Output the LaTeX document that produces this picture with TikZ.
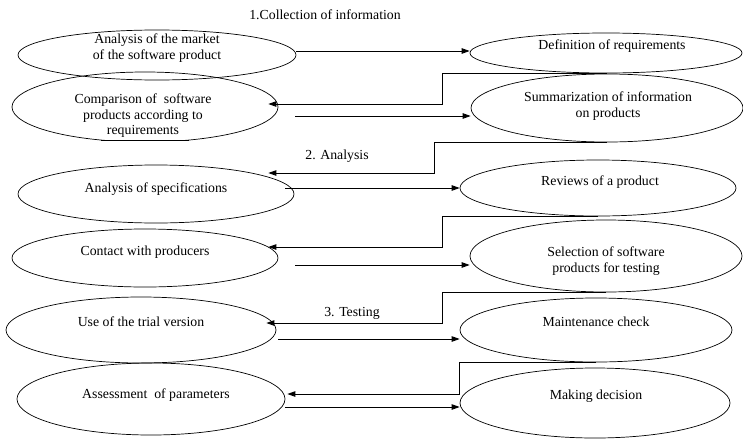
\documentclass[tikz,border=0pt]{standalone}
\usepackage{fontspec}
\setmainfont{Liberation Serif}
\usetikzlibrary{arrows.meta,calc,shapes.geometric}
\begin{document}
\begin{tikzpicture}[x=1pt,y=1pt,
 ell/.style={draw,ellipse,line width=0.7pt,inner sep=0pt},
 lbl/.style={font=\fontsize{13.8}{15.5}\selectfont,align=center,inner sep=0pt},
 arr/.style={line width=0.9pt,-{Triangle[length=8pt,width=5.5pt]}}]
\useasboundingbox (0,0) rectangle (743,-439);
% ellipses
\node[ell,minimum width=278pt,minimum height=50pt] (e1) at (157,-55) {};
\node[ell,minimum width=272pt,minimum height=40pt] (e2) at (606,-53) {};
\begin{scope}
\clip (0,-60) rectangle (400,-140);
\node[ell,minimum width=266pt,minimum height=70pt] (e3) at (145,-107) {};
\node[lbl] (t3) at (143,-116) {Comparison of\ \ software\\products according to\\requirements};
\end{scope}
\draw[line width=0.7pt] (101,-140) -- (189,-140);
\node[ell,minimum width=272pt,minimum height=68pt] (e4) at (607,-108) {};
\node[ell,minimum width=276pt,minimum height=58pt] (e5) at (156,-194) {};
\node[ell,minimum width=276pt,minimum height=56pt] (e6) at (598,-188) {};
\node[ell,minimum width=266pt,minimum height=58pt] (e7) at (145,-258) {};
\node[ell,minimum width=272pt,minimum height=72pt] (e8) at (606,-256) {};
\node[ell,minimum width=270pt,minimum height=66pt] (e9) at (141,-330) {};
\node[ell,minimum width=272pt,minimum height=64pt] (e10) at (596,-330) {};
\node[ell,minimum width=268pt,minimum height=72pt] (e11) at (151,-399) {};
\node[ell,minimum width=270pt,minimum height=70pt] (e12) at (595,-403) {};
% texts
\node[lbl] (t1) at (157,-48) {Analysis of the market\\of the software product};
\node[lbl] (t2) at (612,-46) {Definition of requirements};
\node[lbl] (t4) at (608,-106) {Summarization of information\\on products};
\node[lbl] (t5) at (156,-189) {Analysis of specifications};
\node[lbl] (t6) at (600,-182) {Reviews of a product};
\node[lbl] (t7) at (145,-252) {Contact with producers};
\node[lbl] (t8) at (606,-261) {Selection of software\\products for testing};
\node[lbl] (t9) at (141,-322) {Use of the trial version};
\node[lbl] (t10) at (596,-322) {Maintenance check};
\node[lbl] (t11) at (156,-395) {Assessment\ \ of parameters};
\node[lbl] (t12) at (596,-396) {Making decision};
\node[lbl] (l1) at (325,-15) {1.Collection of information};
\node[lbl] (l2) at (337,-156) {2. Analysis};
\node[lbl] (l3) at (352,-313) {3. Testing};
% forward arrows
\coordinate (s1) at ([yshift=4pt]e1.east);
\draw[arr] (s1) -- (e2.west |- s1);
\coordinate (s2) at ([shift={(17pt,-9pt)}]e3.east);
\draw[arr] (s2) -- (e4.west |- s2);
\coordinate (s3) at ([shift={(-9pt,6pt)}]e5.east);
\draw[arr] (s3) -- (e6.west |- s3);
\coordinate (s4) at ([shift={(17pt,-7pt)}]e7.east);
\draw[arr] (s4) -- (e8.west |- s4);
\coordinate (s5) at ([shift={(2pt,-9pt)}]e9.east);
\draw[arr] (s5) -- (e10.west |- s5);
\coordinate (s6) at ([yshift=-8pt]e11.east);
\draw[arr] (s6) -- (e12.west |- s6);
% return arrows
\draw[arr] (e4.north) -- ++(-165,0) |- ([shift={(-10pt,3pt)}]e3.east);
\draw[arr] (e4.south) -- ++(-173,0) |- ([shift={(-26pt,21pt)}]e5.east);
\draw[arr] (e6.south) -- ++(-156,0) |- ([shift={(-10pt,11pt)}]e7.east);
\draw[arr] (e8.south) -- ++(-164,0) |- ([shift={(-10pt,7pt)}]e9.east);
\draw[arr] (e10.south) -- ++(-137,0) |- ([shift={(2pt,5pt)}]e11.east);
\end{tikzpicture}
\end{document}
